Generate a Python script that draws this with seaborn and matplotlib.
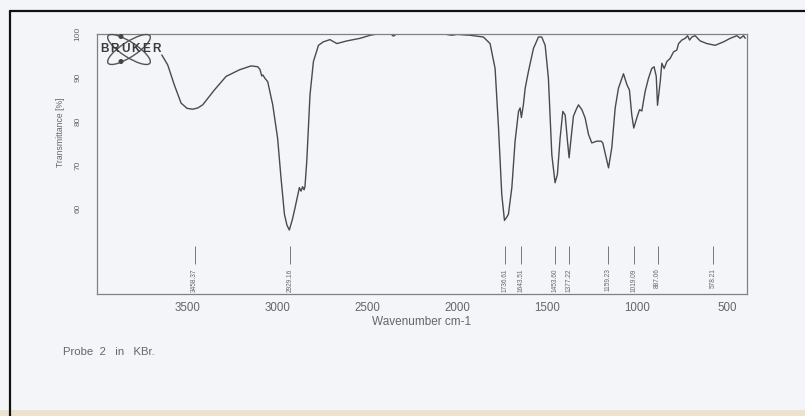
import matplotlib
matplotlib.use("Agg")
import matplotlib.pyplot as plt
import seaborn as sns
import numpy as np
import pandas as pd
from matplotlib.patches import Ellipse, Circle, Rectangle
from matplotlib.lines import Line2D
from matplotlib.transforms import IdentityTransform

# ---------------- data ----------------
wavenumber = [3640, 3607, 3571, 3533, 3500, 3468, 3440, 3413, 3348, 3283, 3209, 3144,
              3107, 3095, 3085, 3078, 3068, 3052, 3024, 2997, 2978, 2959, 2945, 2932,
              2915, 2900, 2876, 2867, 2858, 2850, 2845, 2835, 2817, 2798, 2770, 2743,
              2706, 2668, 2613, 2539, 2483, 2428, 2365, 2354, 2340, 2307, 2100, 2060,
              2030, 2000, 1928, 1854, 1817, 1789, 1770, 1752, 1737, 1725, 1715, 1696,
              1678, 1659, 1650, 1643, 1632, 1622, 1604, 1576, 1548, 1530, 1511, 1493,
              1474, 1456, 1443, 1428, 1413, 1400, 1387, 1378, 1367, 1354, 1339, 1326,
              1307, 1289, 1270, 1252, 1224, 1200, 1191, 1178, 1159, 1141, 1122, 1104,
              1076, 1057, 1043, 1030, 1019, 1002, 987, 974, 956, 937, 919, 906,
              894, 887, 872, 863, 850, 835, 817, 798, 780, 770, 752, 733,
              720, 709, 696, 678, 650, 613, 567, 520, 483, 446, 428, 409, 400]
transmittance = [95.1, 92.8, 88.3, 84.1, 82.9, 82.7, 83.0, 83.7, 87.1, 90.2, 91.7, 92.6,
                 92.4, 91.8, 90.3, 90.5, 89.8, 89.0, 83.7, 76.1, 67.0, 58.7, 56.2, 55.1,
                 57.5, 60.2, 64.8, 64.0, 65.0, 64.3, 65.0, 70.8, 86.0, 93.6, 97.3, 98.1,
                 98.6, 97.7, 98.3, 98.9, 99.6, 100.0, 99.8, 99.4, 99.8, 100.0, 100.0, 99.8,
                 99.6, 99.8, 99.6, 99.2, 97.7, 92.0, 78.4, 63.2, 57.3, 58.0, 58.7, 64.8,
                 75.4, 82.2, 83.0, 80.8, 83.7, 87.5, 91.3, 96.6, 99.2, 99.2, 97.3, 89.8,
                 72.3, 65.9, 67.8, 76.1, 82.2, 81.4, 75.4, 71.6, 76.1, 81.1, 82.6, 83.7,
                 82.6, 80.7, 76.9, 75.0, 75.4, 75.4, 75.0, 72.7, 69.3, 73.9, 83.0, 87.5,
                 90.8, 88.3, 87.1, 81.4, 78.4, 80.7, 82.6, 82.3, 86.7, 89.8, 92.0, 92.4,
                 90.2, 83.6, 89.0, 93.2, 92.0, 93.6, 94.3, 95.8, 96.2, 97.7, 98.5, 98.9,
                 99.5, 98.5, 99.2, 99.5, 98.3, 97.7, 97.3, 98.1, 98.9, 99.5, 98.9, 99.5, 98.9]

peak_positions = [3458.37, 2929.16, 1736.61, 1643.51, 1453.60, 1377.22,
                  1159.23, 1019.09, 887.06, 578.21]
peak_labels = ["3458.37", "2929.16", "1736.61", "1643.51", "1453.60", "1377.22",
               "1159.23", "1019.09", "887.06", "578.21"]

x_ticks = [3500, 3000, 2500, 2000, 1500, 1000, 500]
y_ticks = [60, 70, 80, 90, 100]

# ---------------- style ----------------
sns.set_style("white")
plt.rcParams["font.family"] = ["Liberation Sans", "DejaVu Sans"]

BG = "#f3f5f9"
INK = "#4a4a4a"
GRAY = "#666666"

fig = plt.figure(figsize=(8.05, 4.16), dpi=100, facecolor=BG)
ax = fig.add_axes([97 / 805, (416 - 293.5) / 416, 650 / 805, 260 / 416])
ax.set_facecolor(BG)

df = pd.DataFrame({"wn": wavenumber, "T": transmittance})
sns.lineplot(data=df, x="wn", y="T", ax=ax, color=INK, linewidth=1.0,
             estimator=None, sort=False)

ax.set_xlim(4000, 390)
ax.set_ylim(40.6, 100)
ax.set_xticks(x_ticks)
ax.set_yticks(y_ticks)

for s in ax.spines.values():
    s.set_color("#808080")
    s.set_linewidth(0.9)

ax.tick_params(axis="x", direction="out", length=3, width=0.6, color="#999999",
               labelsize=8.3, labelcolor=GRAY, pad=3)
ax.tick_params(axis="y", direction="out", length=3, width=0.6, color="#999999",
               labelsize=6, labelcolor=GRAY, pad=8, labelrotation=90)
for lab in ax.get_yticklabels():
    lab.set_va("center")

ax.set_xlabel("Wavenumber cm-1", fontsize=8.5, color=GRAY)
ax.xaxis.set_label_coords(0.5, -0.087)
ax.set_ylabel("Transmittance [%]", fontsize=6.2, color=GRAY)
ax.yaxis.set_label_coords(-0.05, 0.62)

# peak markers
ax.vlines(peak_positions, 47.4, 51.5, color="#777777", linewidth=0.7)
for p, lab in zip(peak_positions, peak_labels):
    ax.text(p, 46.3, lab, rotation=90, ha="center", va="top",
            fontsize=4.7, color=GRAY)

# Bruker logo (pixel coordinates)
tr = IdentityTransform()
cx, cy = 129, 416 - 49.5
for ang in (33, -33):
    fig.patches.append(Ellipse((cx, cy), 50, 15, angle=ang, fill=False,
                               edgecolor="#555555", linewidth=1.0, transform=tr))
for px, py in [(121, 416 - 36.5), (121, 416 - 61.5)]:
    fig.patches.append(Circle((px, py), 1.8, color="#444444", transform=tr))
for i, ch in enumerate("BRUKER"):
    fig.text((104.5 + i * 10.4) / 805, (416 - 49.5) / 416, ch, fontsize=8.5,
             fontweight="bold", color="#3a3a3a", ha="center", va="center")

# note
fig.text(63 / 805, (416 - 352) / 416, "Probe  2   in   KBr.", fontsize=8.2,
         color=GRAY, ha="left", va="center")

# scan frame and paper edge
fig.patches.append(Rectangle((0, 0), 805, 6, transform=tr, facecolor="#ece3cf",
                             edgecolor="none"))
fig.lines.append(Line2D([10, 10], [0, 405], transform=tr, color="#111111", linewidth=1.6))
fig.lines.append(Line2D([10, 805], [405, 405], transform=tr, color="#111111", linewidth=1.6))

fig.savefig("out.png", dpi=100, facecolor=BG)
